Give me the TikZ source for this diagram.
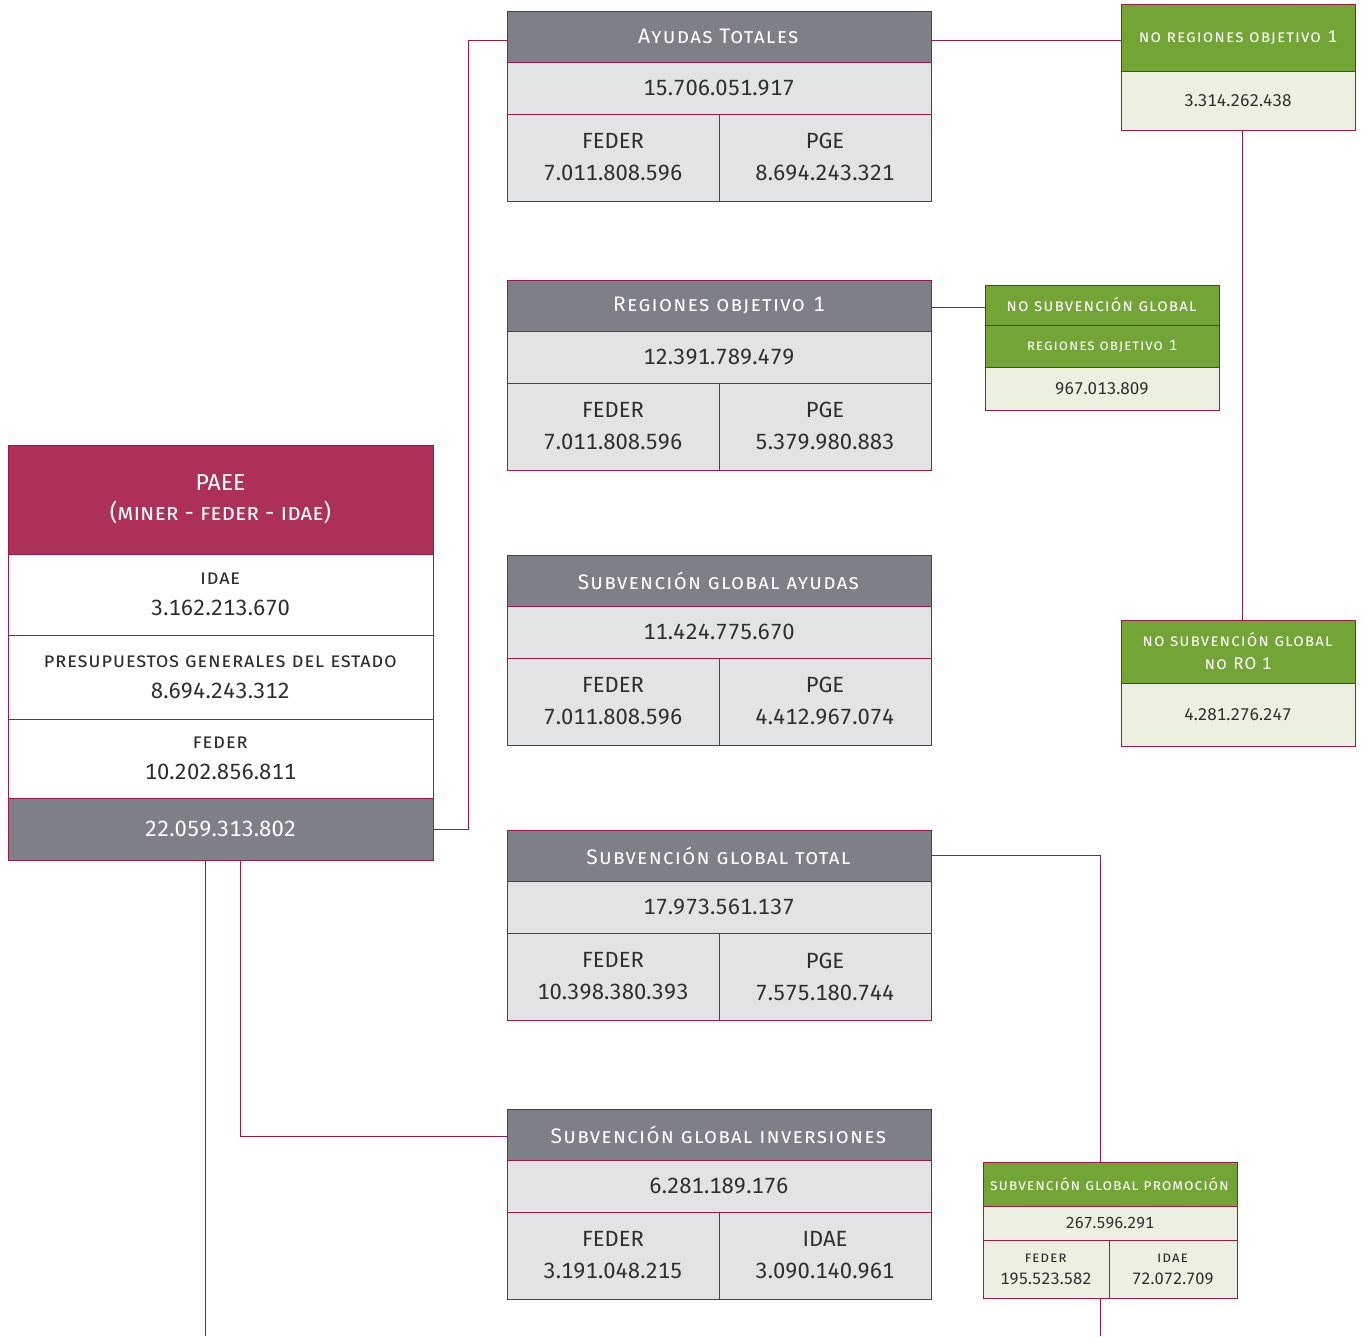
\documentclass[tikz,border=0pt]{standalone}
\usepackage{fontspec}
\setmainfont{Fira Sans}[Numbers=Monospaced]
\newfontfamily\lsfont{Fira Sans}[LetterSpace=6,Numbers=Monospaced]
\newfontfamily\lsfontb{Fira Sans}[LetterSpace=3,Numbers=Monospaced]
\definecolor{bord}{HTML}{A3164B}
\definecolor{redhead}{HTML}{AD3057}
\definecolor{grayhead}{HTML}{7E8088}
\definecolor{lgray}{HTML}{E2E3E5}
\definecolor{greenhead}{HTML}{72A436}
\definecolor{lgreen}{HTML}{EBF0E1}
\definecolor{txt}{HTML}{2E2E2E}
\tikzset{
  cell/.style={draw=bord, line width=1pt, inner sep=0pt, outer sep=0pt, anchor=north west, align=center, text=txt},
  conn/.style={draw=bord, line width=1pt},
  big/.style={font=\fontsize{22}{32}\selectfont},
  lab/.style={font=\lsfont\fontsize{21}{32}\selectfont},
}
\newcommand\graybox[8]{%
  \node[cell, lab, fill=grayhead, text=white, minimum width=424pt, minimum height=51pt] (#1h) at (507,#2) {#3};
  \node[cell, big, fill=lgray, minimum width=424pt, minimum height=52pt] (#1v) at (507,#2+51) {#4};
  \node[cell, big, fill=lgray, minimum width=212pt, minimum height=87pt] (#1l) at (507,#2+103) {#5\\#6};
  \node[cell, big, fill=lgray, minimum width=212pt, minimum height=87pt] (#1r) at (719,#2+103) {#7\\#8};
}
\newcommand\paeerow[5]{%
  \node[cell, fill=white, font=\fontsize{22}{31}\selectfont, minimum width=425pt, minimum height=#3pt] (#1) at (8,#2) {{\lsfontb\fontsize{20.5}{31}\selectfont\textsc{#4}}\\#5};
}
\begin{document}
\begin{tikzpicture}[x=1pt,y=-1pt]
\useasboundingbox (0,0) rectangle (1365,1336);
% PAEE
\node[cell, fill=redhead, text=white, font=\fontsize{23}{30}\selectfont, minimum width=425pt, minimum height=109pt] (ph) at (8,445) {PAEE\\(\textsc{miner - feder - idae})};
\paeerow{p1}{554}{81}{idae}{3.162.213.670}
\paeerow{p2}{635}{84}{presupuestos generales del estado}{8.694.243.312}
\paeerow{p3}{719}{79}{feder}{10.202.856.811}
\node[cell, big, fill=grayhead, text=white, minimum width=425pt, minimum height=62pt] (pt) at (8,798) {22.059.313.802};
% gray boxes
\graybox{ba}{11}{\textsc{Ayudas Totales}}{15.706.051.917}{FEDER}{7.011.808.596}{PGE}{8.694.243.321}
\graybox{bb}{280}{\textsc{Regiones objetivo} 1}{12.391.789.479}{FEDER}{7.011.808.596}{PGE}{5.379.980.883}
\graybox{bc}{555}{\textsc{Subvención global ayudas}}{11.424.775.670}{FEDER}{7.011.808.596}{PGE}{4.412.967.074}
\graybox{bd}{830}{\textsc{Subvención global total}}{17.973.561.137}{FEDER}{10.398.380.393}{PGE}{7.575.180.744}
\graybox{be}{1109}{\textsc{Subvención global inversiones}}{6.281.189.176}{FEDER}{3.191.048.215}{IDAE}{3.090.140.961}
% green boxes
\node[cell, fill=greenhead, text=white, font=\lsfont\fontsize{17}{24}\selectfont, minimum width=234pt, minimum height=67pt] (g1h) at (1121,4) {\textsc{no regiones objetivo} 1};
\node[cell, fill=lgreen, font=\fontsize{17}{24}\selectfont, minimum width=234pt, minimum height=59pt] (g1v) at (1121,71) {3.314.262.438};
\node[cell, fill=greenhead, text=white, font=\lsfont\fontsize{17}{24}\selectfont, minimum width=234pt, minimum height=40pt] (g2h) at (985,285) {\textsc{no subvención global}};
\node[cell, fill=greenhead, text=white, font=\lsfont\fontsize{15}{20}\selectfont, minimum width=234pt, minimum height=42pt] (g2s) at (985,325) {\textsc{regiones objetivo} 1};
\node[cell, fill=lgreen, font=\fontsize{17}{24}\selectfont, minimum width=234pt, minimum height=43pt] (g2v) at (985,367) {967.013.809};
\node[cell, fill=greenhead, text=white, font=\lsfont\fontsize{17}{23}\selectfont, minimum width=234pt, minimum height=63pt] (g3h) at (1121,620) {\textsc{no subvención global}\\\textsc{no} RO 1};
\node[cell, fill=lgreen, font=\fontsize{17}{24}\selectfont, minimum width=234pt, minimum height=63pt] (g3v) at (1121,683) {4.281.276.247};
\node[cell, fill=greenhead, text=white, font=\lsfont\fontsize{15.5}{20}\selectfont, minimum width=254pt, minimum height=44pt] (g4h) at (983,1162) {\textsc{subvención global promoción}};
\node[cell, fill=lgreen, font=\fontsize{16}{22}\selectfont, minimum width=254pt, minimum height=34pt] (g4v) at (983,1206) {267.596.291};
\node[cell, fill=lgreen, font=\fontsize{16.5}{22}\selectfont, minimum width=126pt, minimum height=58pt] (g4l) at (983,1240) {{\lsfont\fontsize{15}{22}\selectfont\textsc{feder}}\\195.523.582};
\node[cell, fill=lgreen, font=\fontsize{16.5}{22}\selectfont, minimum width=128pt, minimum height=58pt] (g4r) at (1109,1240) {{\lsfont\fontsize{15}{22}\selectfont\textsc{idae}}\\72.072.709};
% connectors
\coordinate (endL) at (205,1336);
\coordinate (endR) at (1100,1336);
\draw[conn] (pt.east) -- ++(35,0) |- ([yshift=-3.5pt]bah.west);
\draw[conn] ([yshift=-3.5pt]bah.east) -- ([yshift=-3.5pt]bah.east -| g1h.west);
\draw[conn] ([yshift=-1.5pt]bbh.east) -- ([yshift=-1.5pt]bbh.east -| g2h.west);
\draw[conn] ([xshift=4pt]g1v.south) -- ([xshift=4pt]g3h.north);
\draw[conn] (bdh.east) -| ([xshift=-10pt]g4h.north);
\draw[conn] ([xshift=-9pt]g4l.south east) -- (endR);
\draw[conn] (pt.south -| endL) -- (endL);
\draw[conn] ([xshift=19.5pt]pt.south) |- ([yshift=-1.5pt]beh.west);
\end{tikzpicture}
\end{document}
